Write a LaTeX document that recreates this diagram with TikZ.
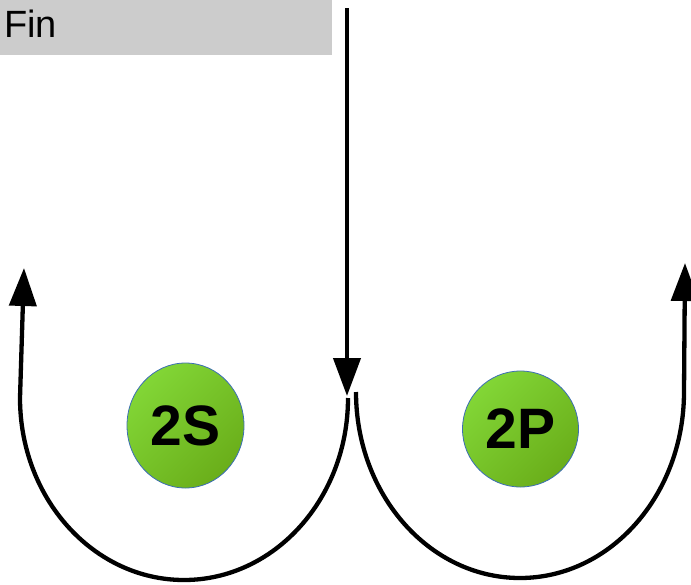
\documentclass[tikz,border=0pt]{standalone}
\usepackage{fontspec}
\setmainfont{Liberation Sans}
\usetikzlibrary{arrows.meta,shapes.geometric}
\definecolor{fingray}{HTML}{CCCCCC}
\definecolor{glight}{HTML}{82D636}
\definecolor{gdark}{HTML}{6AAE1A}
\definecolor{gborder}{HTML}{3C6EB4}
\begin{document}
\begin{tikzpicture}[x=1pt,y=-1pt,
  flow/.style={line width=4.3pt,-{Triangle[length=38pt,width=27pt]}},
  finbox/.style={fill=fingray,inner xsep=4pt,inner ysep=0pt,align=left,
     font=\fontsize{38}{42}\selectfont},
  orb/.style={draw=gborder,line width=0.8pt,top color=glight,bottom color=gdark,
     shading angle=45,inner sep=0pt,font=\fontsize{57}{60}\selectfont\bfseries}]
\useasboundingbox (0,0) rectangle (691,584);
\node[finbox,anchor=north west,text width=324pt,text height=37pt,text depth=18pt] (fin) at (0,0) {Fin};
\node[orb,ellipse,minimum width=117pt,minimum height=125pt] (s2) at (185.5,425.5) {2S};
\node[orb,circle,minimum size=116pt] (p2) at (520.5,429) {2P};
\coordinate (top) at (347,8);
\coordinate (junction) at (347,396);
\coordinate (lstart) at (348,398);
\coordinate (ltip) at (24,268);
\coordinate (rstart) at (356,392);
\coordinate (rtip) at (685,263);
\draw[flow] (top) -- (junction);
\draw[flow] (lstart) arc[start angle=0,end angle=180,x radius=164,y radius=182] -- (ltip);
\draw[flow] (rstart) arc[start angle=180,end angle=0,x radius=164,y radius=186] -- (rtip);
\end{tikzpicture}
\end{document}
